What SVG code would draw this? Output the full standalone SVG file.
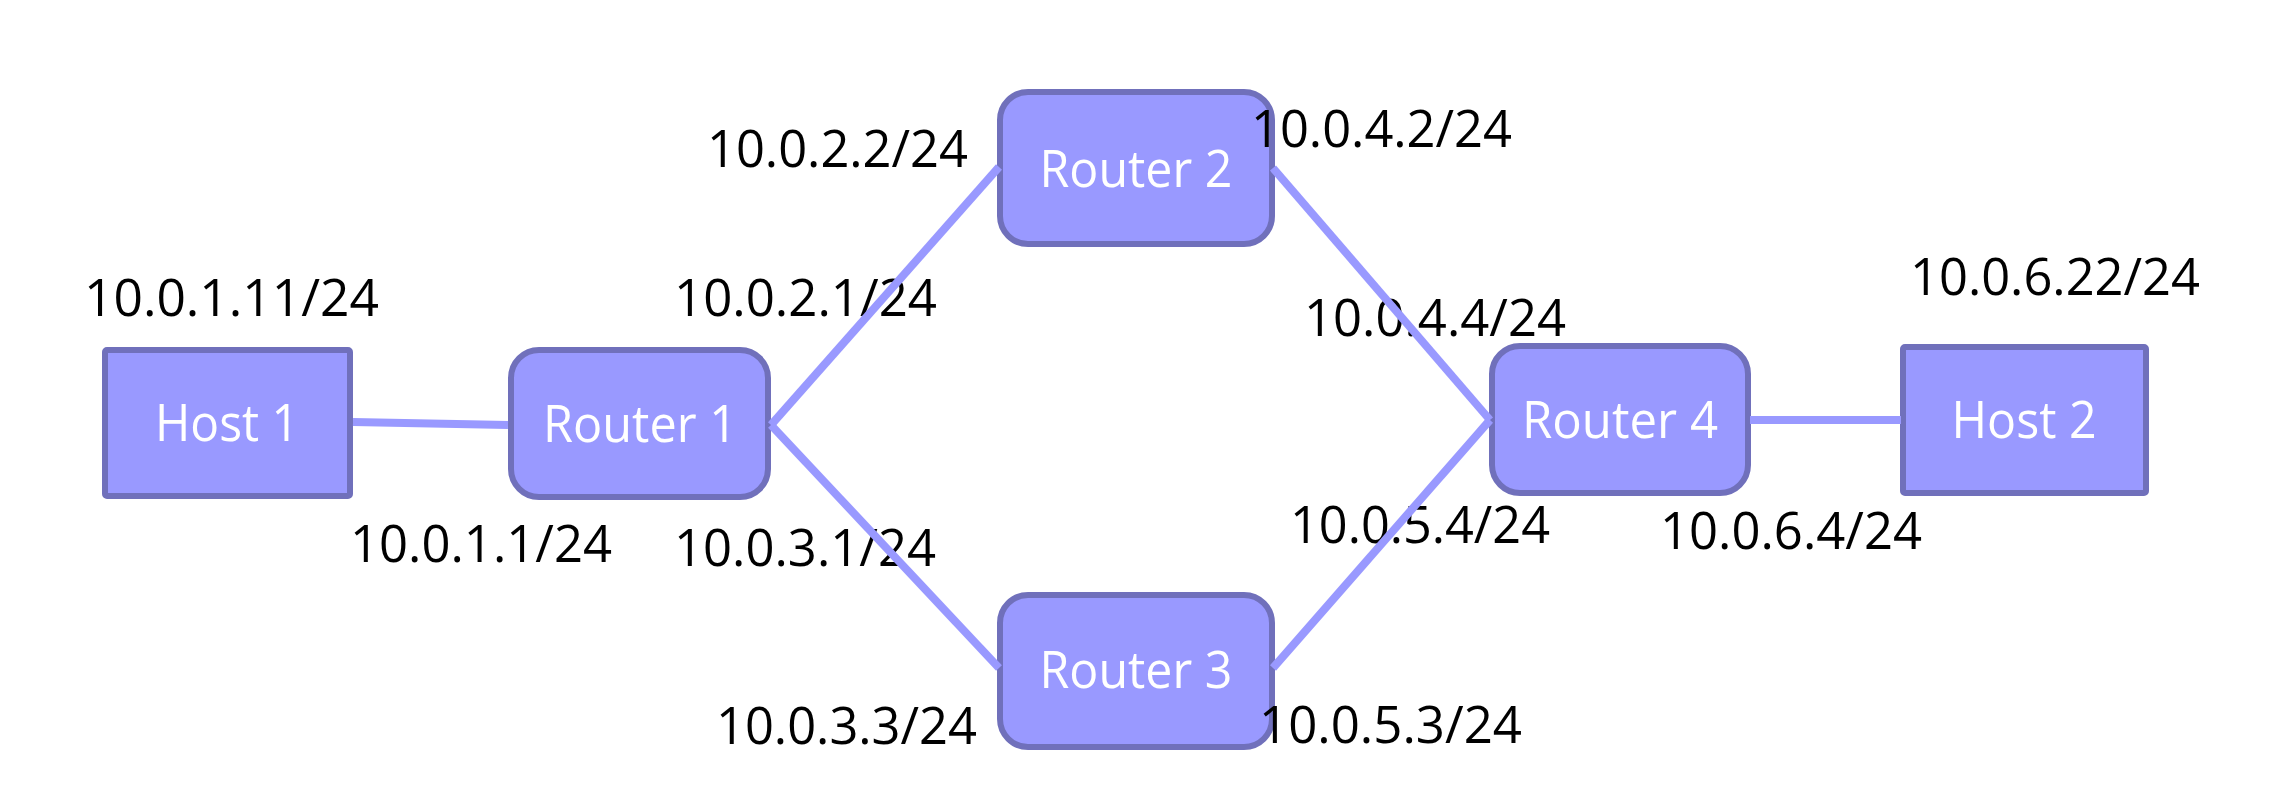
<svg xmlns="http://www.w3.org/2000/svg" width="2276" height="790" viewBox="0 0 2276 790">
  <style>
    .box { fill: #9999FF; stroke: #7070BB; stroke-width: 6; }
    .name { font-family: "Open Sans", "Liberation Sans", sans-serif; font-size: 52px; fill: #FFFFFF; text-anchor: middle; }
    .addr { font-family: "Open Sans", "Liberation Sans", sans-serif; font-size: 52px; fill: #000000; }
    .link { stroke: #9999FF; stroke-width: 8; fill: none; }
  </style>
  <rect width="2276" height="790" fill="#FFFFFF"/>

  <g id="host1">
    <rect class="box" x="105" y="350" width="245" height="146" rx="2"/>
    <text class="name" x="227" y="441" textLength="144" lengthAdjust="spacingAndGlyphs">Host 1</text>
  </g>
  <g id="router1">
    <rect class="box" x="511" y="350" width="257" height="147" rx="28"/>
    <text class="name" x="640" y="442" textLength="194" lengthAdjust="spacingAndGlyphs">Router 1</text>
  </g>
  <g id="router2">
    <rect class="box" x="1000" y="92" width="272" height="152" rx="28"/>
    <text class="name" x="1136" y="187" textLength="193" lengthAdjust="spacingAndGlyphs">Router 2</text>
  </g>
  <g id="router3">
    <rect class="box" x="1000" y="595" width="272" height="152" rx="28"/>
    <text class="name" x="1136" y="688" textLength="193" lengthAdjust="spacingAndGlyphs">Router 3</text>
  </g>
  <g id="router4">
    <rect class="box" x="1492" y="346" width="256" height="147" rx="28"/>
    <text class="name" x="1620" y="438" textLength="196" lengthAdjust="spacingAndGlyphs">Router 4</text>
  </g>
  <g id="host2">
    <rect class="box" x="1903" y="347" width="243" height="146" rx="2"/>
    <text class="name" x="2024" y="438" textLength="145" lengthAdjust="spacingAndGlyphs">Host 2</text>
  </g>

  <g id="addresses">
    <text class="addr" x="84" y="316" textLength="295" lengthAdjust="spacingAndGlyphs">10.0.1.11/24</text>
    <text class="addr" x="350" y="562" textLength="262" lengthAdjust="spacingAndGlyphs">10.0.1.1/24</text>
    <text class="addr" x="707" y="167" textLength="261" lengthAdjust="spacingAndGlyphs">10.0.2.2/24</text>
    <text class="addr" x="674" y="316" textLength="263" lengthAdjust="spacingAndGlyphs">10.0.2.1/24</text>
    <text class="addr" x="674" y="566" textLength="262" lengthAdjust="spacingAndGlyphs">10.0.3.1/24</text>
    <text class="addr" x="716" y="744" textLength="261" lengthAdjust="spacingAndGlyphs">10.0.3.3/24</text>
    <text class="addr" x="1251" y="147" textLength="261" lengthAdjust="spacingAndGlyphs">10.0.4.2/24</text>
    <text class="addr" x="1304" y="336" textLength="262" lengthAdjust="spacingAndGlyphs">10.0.4.4/24</text>
    <text class="addr" x="1290" y="543" textLength="260" lengthAdjust="spacingAndGlyphs">10.0.5.4/24</text>
    <text class="addr" x="1259" y="743" textLength="263" lengthAdjust="spacingAndGlyphs">10.0.5.3/24</text>
    <text class="addr" x="1660" y="549" textLength="262" lengthAdjust="spacingAndGlyphs">10.0.6.4/24</text>
    <text class="addr" x="1910" y="295" textLength="290" lengthAdjust="spacingAndGlyphs">10.0.6.22/24</text>
  </g>

  <g id="connectors">
    <line class="link" x1="353" y1="422" x2="508" y2="425"/>
    <line class="link" x1="771" y1="425" x2="999" y2="167"/>
    <line class="link" x1="771" y1="425" x2="999" y2="668"/>
    <line class="link" x1="1273" y1="168" x2="1490" y2="420"/>
    <line class="link" x1="1273" y1="668" x2="1490" y2="420"/>
    <line class="link" x1="1750" y1="420" x2="1901" y2="420"/>
  </g>
</svg>
